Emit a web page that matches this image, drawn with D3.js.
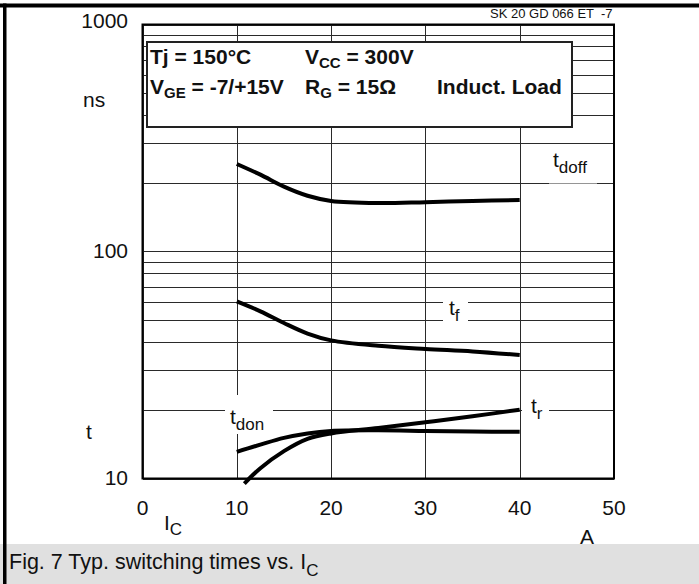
<!DOCTYPE html>
<meta charset="utf-8">
<head>
<script src="https://cdnjs.cloudflare.com/ajax/libs/d3/7.8.5/d3.min.js"></script>
<style>
  body { margin: 0; background: white; }
  svg text { font-family: "Liberation Sans", Arial, sans-serif; fill: #111; }
  .grid line { stroke: #2a2a2a; stroke-width: 1; shape-rendering: crispEdges; }
  .curve { fill: none; stroke: #000; stroke-width: 4; stroke-linecap: butt; }
</style>
</head>
<body>
<script>

// Collector current, A  /  time, ns
var tdoffIc = [10, 12.5, 15, 17.5, 20, 25, 30, 35, 40];
var tdoffNs = [243, 218, 193, 176, 167, 163.5, 165, 167, 168.5];

var tfIc = [10, 12.5, 15, 17.5, 20, 25, 30, 35, 40];
var tfNs = [60.3, 54.5, 48.4, 43.5, 40.6, 38.4, 37.2, 36.3, 35.0];

var tdonIc = [10, 12.5, 15, 17.5, 20, 25, 30, 35, 40];
var tdonNs = [13.1, 14.1, 15.1, 15.8, 16.2, 16.3, 16.2, 16.1, 16.05];

var trIc = [10.8, 12.5, 15, 17.5, 20, 25, 30, 35, 40];
var trNs = [9.5, 11.1, 13.2, 14.95, 15.8, 16.7, 17.7, 18.8, 20.1];

var xTicks = [0, 10, 20, 30, 40, 50];
var yTickLabels = [10, 100, 1000];

var W = 699, H = 584;

var svg = d3.select("body").append("svg")
    .attr("width", W)
    .attr("height", H);

var x = d3.scaleLinear().domain([0, 50]).range([142.5, 614]);
var y = d3.scaleLog().domain([10, 1000]).range([478.5, 24.5]);

// caption band
svg.append("rect")
    .attr("x", 0).attr("y", 544).attr("width", W).attr("height", H - 544)
    .attr("fill", "#e0e0e0");

var cap = svg.append("text")
    .attr("x", 9).attr("y", 569)
    .style("font-size", "21.5px");
cap.append("tspan").text("Fig. 7 Typ. switching times vs. I");
cap.append("tspan").attr("dy", 7).style("font-size", "17px").text("C");

// outer frame (top + left)
svg.append("rect").attr("x", 0).attr("y", 3.5).attr("width", W).attr("height", 4).attr("fill", "#000");
svg.append("rect").attr("x", 3).attr("y", 3.5).attr("width", 3.5).attr("height", H).attr("fill", "#000");

// grid
var grid = svg.append("g").attr("class", "grid");

grid.selectAll(".h")
    .data(y.ticks())
    .enter().append("line")
    .attr("x1", x(0)).attr("x2", x(50))
    .attr("y1", function(d) { return Math.round(y(d)) + 0.5; })
    .attr("y2", function(d) { return Math.round(y(d)) + 0.5; });

grid.selectAll(".v")
    .data(xTicks)
    .enter().append("line")
    .attr("y1", y(1000)).attr("y2", y(10))
    .attr("x1", function(d) { return Math.round(x(d)) + 0.5; })
    .attr("x2", function(d) { return Math.round(x(d)) + 0.5; });

// parameter box
svg.append("rect")
    .attr("x", 147).attr("y", 42).attr("width", 425).attr("height", 85)
    .attr("fill", "#fff").attr("stroke", "#222").attr("stroke-width", 2);

function sub(g, xx, yy, main, s, rest) {
  var t = g.append("text").attr("x", xx).attr("y", yy)
      .style("font-size", "21px").style("font-weight", "bold");
  t.append("tspan").text(main);
  if (s) t.append("tspan").attr("dy", 4).style("font-size", "15px").text(s);
  if (rest) t.append("tspan").attr("dy", s ? -4 : 0).text(rest);
  return t;
}
sub(svg, 150, 64, "Tj = 150\u00B0C");
sub(svg, 305, 64, "V", "CC", " = 300V");
sub(svg, 150, 94, "V", "GE", " = -7/+15V");
sub(svg, 305, 94, "R", "G", " = 15\u03A9");
sub(svg, 437, 94, "Induct. Load");

// label backgrounds that break the grid
function labelBg(x0, y0, x1, y1) {
  svg.append("rect").attr("x", x0).attr("y", y0)
      .attr("width", x1 - x0).attr("height", y1 - y0).attr("fill", "#fff");
}
labelBg(549, 145, 597, 183.5);
labelBg(443, 297, 468, 324);
labelBg(522, 400, 549, 420);
labelBg(225, 395, 273, 434);

// plot frame
svg.append("rect")
    .attr("x", x(0)).attr("y", y(1000))
    .attr("width", x(50) - x(0)).attr("height", y(10) - y(1000))
    .attr("fill", "none").attr("stroke", "#000").attr("stroke-width", 2);

// curves
var line = d3.line()
    .x(function(d) { return x(d[0]); })
    .y(function(d) { return y(d[1]); })
    .curve(d3.curveCatmullRom.alpha(0.5));

[[tdoffIc, tdoffNs], [tfIc, tfNs], [tdonIc, tdonNs], [trIc, trNs]].forEach(function(s) {
  svg.append("path")
      .attr("class", "curve")
      .attr("d", line(d3.zip(s[0], s[1])));
});

// curve labels
function curveLabel(xx, yy, main, s) {
  var t = svg.append("text").attr("x", xx).attr("y", yy).style("font-size", "21px");
  t.append("tspan").text(main);
  t.append("tspan").attr("dy", 6).style("font-size", "17px").text(s);
}
curveLabel(553, 167, "t", "doff");
curveLabel(449, 315, "t", "f");
curveLabel(531, 413, "t", "r");
curveLabel(230, 424, "t", "don");

// y axis labels
svg.selectAll(".ylab")
    .data(yTickLabels)
    .enter().append("text")
    .attr("x", 128)
    .attr("y", function(d) { return d === 1000 ? y(d) - 4 : y(d) - 1; })
    .attr("text-anchor", "end")
    .attr("dy", "0.35em")
    .style("font-size", "21px")
    .text(function(d) { return d; });

svg.append("text").attr("x", 83).attr("y", 107).style("font-size", "21px").text("ns");
svg.append("text").attr("x", 86).attr("y", 439).style("font-size", "21px").text("t");

// x axis labels
svg.selectAll(".xlab")
    .data(xTicks)
    .enter().append("text")
    .attr("x", function(d) { return x(d); })
    .attr("y", 508)
    .attr("text-anchor", "middle")
    .attr("dy", "0.35em")
    .style("font-size", "21px")
    .text(function(d) { return d; });

var ic = svg.append("text").attr("x", 164).attr("y", 530).style("font-size", "21px");
ic.append("tspan").text("I");
ic.append("tspan").attr("dy", 5).style("font-size", "17px").text("C");

svg.append("text").attr("x", 587).attr("y", 544).attr("text-anchor", "middle")
    .style("font-size", "21px").text("A");

svg.append("text").attr("x", 490).attr("y", 18)
    .style("font-size", "13px").text("SK 20 GD 066 ET \u00A0-7");

</script>
</body>
